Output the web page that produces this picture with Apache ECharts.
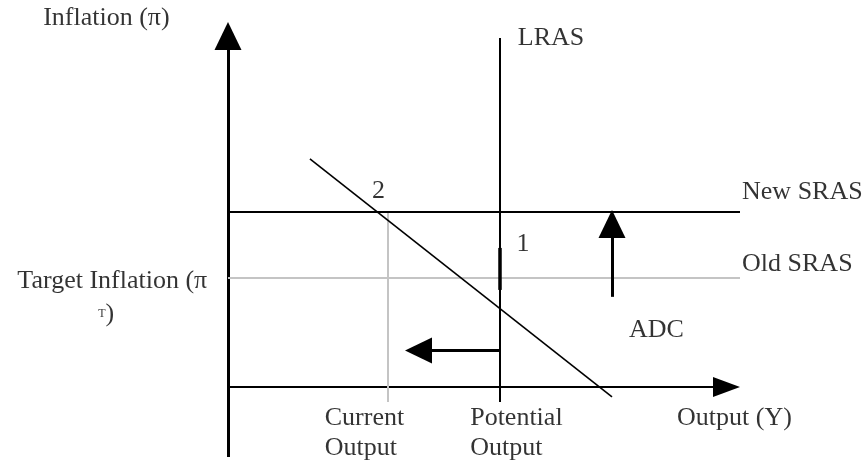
<!DOCTYPE html>
<html>
<head>
<meta charset="utf-8">
<script src="https://cdn.jsdelivr.net/npm/echarts@6/dist/echarts.min.js"></script>
<style>
html,body{margin:0;padding:0;background:#fff;}
#chart{width:866px;height:465px;}
</style>
</head>
<body>
<div id="chart"></div>
<script>
// ---- Data (economics units) ----
const currentOutput = 3.125;       // Y of current output
const potentialOutput = 5.31;      // Y* (LRAS)
const oldSRAS = 3.0;               // target inflation level
const newSRAS = 4.8;               // new inflation level
const adcStart = [1.6, 6.25];
const adcEnd = [7.5, -0.27];
const axisTop = 10;                // inflation axis max
const axisRight = 10;              // output axis max
const axisBottomExt = -1.92;       // y axis extends below origin
const tickBottom = -0.41;          // vertical guide lines extend below x axis
const lrasTop = 9.56;
const lrasMarker = [3.81, 2.66];   // short thick segment on LRAS near point 1
const shiftLeftLevel = 1.0;        // leftward arrow height
const shiftLeftTip = 3.457;
const shiftUpX = 7.5;              // upward arrow x
const shiftUpFrom = 2.47;
const shiftUpTip = 4.85;

// text labels
const labelTexts = ['Inflation (π)', 'LRAS', 'New SRAS', 'Old SRAS', '2', '1', 'ADC',
  'Target Inflation (π\nT)', 'Current\nOutput', 'Potential\nOutput', 'Output (Y)'];
const labelAnchors = [[-3.61, 10.11], [5.66, 9.56], [10.04, 5.33], [10.04, 3.37], [2.94, 5.36],
  [5.76, 3.90], [7.83, 1.56], [-2.26, 2.46], [1.89, -1.27], [4.73, -1.27], [8.77, -0.85]];
const labelAligns = ['left', 'left', 'left', 'left', 'center', 'center', 'left', 'center', 'left', 'left', 'left'];

// ---- Chart ----
const FONT = "'Liberation Serif', 'Times New Roman', serif";
const BLACK = '#000';
const GREY = '#c4c4c4';

function seg(a, b, color, width) {
  return { coords: [a, b], lineStyle: { color: color, width: width, type: 'solid', opacity: 1 } };
}

const segments = [
  // axes
  seg([0, axisBottomExt], [0, axisTop - 0.7], BLACK, 3),
  seg([0, 0], [axisRight - 0.5, 0], BLACK, 2),
  // old SRAS (grey)
  seg([0, oldSRAS], [axisRight, oldSRAS], GREY, 2),
  // current output guide (grey)
  seg([currentOutput, newSRAS], [currentOutput, tickBottom], GREY, 2),
  // new SRAS
  seg([0, newSRAS], [axisRight, newSRAS], BLACK, 2),
  // LRAS
  seg([potentialOutput, lrasTop], [potentialOutput, tickBottom], BLACK, 2),
  seg([potentialOutput, lrasMarker[0]], [potentialOutput, lrasMarker[1]], BLACK, 3.5),
  // ADC
  seg(adcStart, adcEnd, BLACK, 1.6),
  // shift arrows shafts
  seg([potentialOutput, shiftLeftLevel], [shiftLeftTip + 0.4, shiftLeftLevel], BLACK, 3),
  seg([shiftUpX, shiftUpFrom], [shiftUpX, shiftUpTip - 0.5], BLACK, 3)
];

const arrowHeads = [
  { value: [0, axisTop], symbolSize: [27, 28], symbolRotate: 0, symbolOffset: [0, 14] },
  { value: [axisRight, 0], symbolSize: [20, 27], symbolRotate: -90, symbolOffset: [-13.5, 0] },
  { value: [shiftLeftTip, shiftLeftLevel], symbolSize: [26, 27], symbolRotate: 90, symbolOffset: [13.5, 0] },
  { value: [shiftUpX, shiftUpTip], symbolSize: [27, 28], symbolRotate: 0, symbolOffset: [0, 14] }
];

const textData = labelTexts.map(function (t, i) {
  const item = {
    name: t,
    value: labelAnchors[i],
    label: { align: labelAligns[i] }
  };
  if (i === 7) {
    item.label.formatter = '{a|Target Inflation (π}\n{s|T}{p|)}';
  }
  return item;
});

const chart = echarts.init(document.getElementById('chart'), null, { renderer: 'canvas' });
chart.setOption({
  animation: false,
  backgroundColor: '#fff',
  grid: { left: 228, right: 126, top: 22, bottom: 5 },
  xAxis: { type: 'value', min: 0, max: axisRight, show: false },
  yAxis: { type: 'value', min: -2, max: axisTop, show: false },
  series: [
    {
      type: 'lines',
      coordinateSystem: 'cartesian2d',
      polyline: false,
      clip: false,
      silent: true,
      symbol: 'none',
      data: segments,
      z: 2
    },
    {
      type: 'scatter',
      clip: false,
      silent: true,
      symbol: 'triangle',
      itemStyle: { color: BLACK, opacity: 1 },
      data: arrowHeads,
      z: 3
    },
    {
      type: 'scatter',
      clip: false,
      silent: true,
      symbolSize: 0,
      data: textData,
      label: {
        show: true,
        position: 'inside',
        verticalAlign: 'middle',
        color: BLACK,
        fontFamily: FONT,
        fontSize: 26,
        lineHeight: 30,
        formatter: function (p) { return p.name; },
        rich: {
          a: { fontFamily: FONT, fontSize: 26, lineHeight: 33, color: BLACK },
          p: { fontFamily: FONT, fontSize: 26, lineHeight: 33, color: BLACK, padding: [0, 12, 0, 0] },
          s: { fontFamily: FONT, fontSize: 12, lineHeight: 12, color: BLACK, verticalAlign: 'middle' }
        }
      },
      z: 4
    }
  ]
});
</script>
</body>
</html>
